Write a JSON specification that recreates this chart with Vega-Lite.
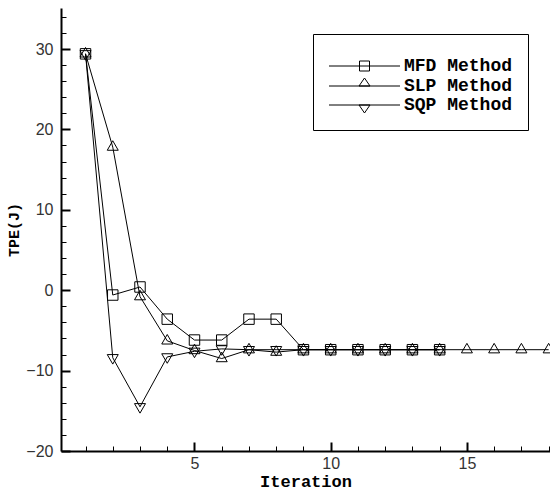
{
  "$schema": "https://vega.github.io/schema/vega-lite/v6.json",
  "autosize": "none",
  "width": 489,
  "height": 443,
  "padding": {"left": 61, "top": 8, "right": 0, "bottom": 39},
  "background": "white",
  "config": {"view": {"stroke": null}},
  "data": {"values": [
    {"method": "MFD Method", "iter": 1, "tpe": 29.4},
    {"method": "MFD Method", "iter": 2, "tpe": -0.6},
    {"method": "MFD Method", "iter": 3, "tpe": 0.4},
    {"method": "MFD Method", "iter": 4, "tpe": -3.6},
    {"method": "MFD Method", "iter": 5, "tpe": -6.2},
    {"method": "MFD Method", "iter": 6, "tpe": -6.2},
    {"method": "MFD Method", "iter": 7, "tpe": -3.6},
    {"method": "MFD Method", "iter": 8, "tpe": -3.6},
    {"method": "MFD Method", "iter": 9, "tpe": -7.4},
    {"method": "MFD Method", "iter": 10, "tpe": -7.4},
    {"method": "MFD Method", "iter": 11, "tpe": -7.4},
    {"method": "MFD Method", "iter": 12, "tpe": -7.4},
    {"method": "MFD Method", "iter": 13, "tpe": -7.4},
    {"method": "MFD Method", "iter": 14, "tpe": -7.4},
    {"method": "SLP Method", "iter": 1, "tpe": 29.4},
    {"method": "SLP Method", "iter": 2, "tpe": 17.8},
    {"method": "SLP Method", "iter": 3, "tpe": -0.8},
    {"method": "SLP Method", "iter": 4, "tpe": -6.3},
    {"method": "SLP Method", "iter": 5, "tpe": -7.5},
    {"method": "SLP Method", "iter": 6, "tpe": -8.5},
    {"method": "SLP Method", "iter": 7, "tpe": -7.4},
    {"method": "SLP Method", "iter": 8, "tpe": -7.7},
    {"method": "SLP Method", "iter": 9, "tpe": -7.4},
    {"method": "SLP Method", "iter": 10, "tpe": -7.4},
    {"method": "SLP Method", "iter": 11, "tpe": -7.4},
    {"method": "SLP Method", "iter": 12, "tpe": -7.4},
    {"method": "SLP Method", "iter": 13, "tpe": -7.4},
    {"method": "SLP Method", "iter": 14, "tpe": -7.4},
    {"method": "SLP Method", "iter": 15, "tpe": -7.4},
    {"method": "SLP Method", "iter": 16, "tpe": -7.4},
    {"method": "SLP Method", "iter": 17, "tpe": -7.4},
    {"method": "SLP Method", "iter": 18, "tpe": -7.4},
    {"method": "SQP Method", "iter": 1, "tpe": 29.4},
    {"method": "SQP Method", "iter": 2, "tpe": -8.4},
    {"method": "SQP Method", "iter": 3, "tpe": -14.5},
    {"method": "SQP Method", "iter": 4, "tpe": -8.3},
    {"method": "SQP Method", "iter": 5, "tpe": -7.6},
    {"method": "SQP Method", "iter": 6, "tpe": -7.3},
    {"method": "SQP Method", "iter": 7, "tpe": -7.4},
    {"method": "SQP Method", "iter": 8, "tpe": -7.4},
    {"method": "SQP Method", "iter": 9, "tpe": -7.4},
    {"method": "SQP Method", "iter": 10, "tpe": -7.4},
    {"method": "SQP Method", "iter": 11, "tpe": -7.4},
    {"method": "SQP Method", "iter": 12, "tpe": -7.4},
    {"method": "SQP Method", "iter": 13, "tpe": -7.4},
    {"method": "SQP Method", "iter": 14, "tpe": -7.4}
  ]},
  "encoding": {
    "x": {
      "field": "iter", "type": "quantitative",
      "scale": {"domain": [0.1, 18.05], "nice": false, "zero": false},
      "axis": {
        "title": "Iteration",
        "titleFont": "Liberation Mono", "titleFontWeight": "bold", "titleFontSize": 17, "titleColor": "black",
        "titlePadding": 2,
        "values": [1,2,3,4,5,6,7,8,9,10,11,12,13,14,15,16,17,18],
        "labelExpr": "datum.value % 5 === 0 ? datum.label : ''",
        "labelFont": "Liberation Sans", "labelFontSize": 16, "labelColor": "#333",
        "labelPadding": 13,
        "tickSize": {"condition": {"test": "datum.value % 5 === 0", "value": -9}, "value": -5},
        "tickWidth": {"condition": {"test": "datum.value % 5 === 0", "value": 2}, "value": 1},
        "tickColor": "black",
        "domainColor": "black", "domainWidth": 2,
        "grid": false
      }
    },
    "y": {
      "field": "tpe", "type": "quantitative",
      "scale": {"domain": [-20, 35.1], "nice": false, "zero": false},
      "axis": {
        "title": "TPE(J)",
        "titleFont": "Liberation Mono", "titleFontWeight": "bold", "titleFontSize": 15, "titleColor": "black",
        "values": [-20,-18,-16,-14,-12,-10,-8,-6,-4,-2,0,2,4,6,8,10,12,14,16,18,20,22,24,26,28,30,32,34],
        "labelExpr": "datum.value % 10 === 0 ? datum.label : ''",
        "labelFont": "Liberation Sans", "labelFontSize": 16, "labelColor": "#333",
        "labelPadding": 17,
        "tickSize": {"condition": {"test": "datum.value % 10 === 0", "value": -9}, "value": -5},
        "tickWidth": {"condition": {"test": "datum.value % 10 === 0", "value": 2}, "value": 1},
        "tickColor": "black",
        "domainColor": "black", "domainWidth": 2,
        "grid": false
      }
    }
  },
  "layer": [
    {
      "mark": {"type": "line", "color": "black", "strokeWidth": 1},
      "encoding": {"detail": {"field": "method"}}
    },
    {
      "mark": {"type": "point", "filled": false, "color": "black", "strokeWidth": 1, "size": 121, "opacity": 1},
      "encoding": {
        "shape": {
          "field": "method", "type": "nominal",
          "scale": {
            "domain": ["MFD Method", "SLP Method", "SQP Method"],
            "range": ["M-0.95,-0.95H0.95V0.95H-0.95Z", "M-1,0.577L0,-1.155L1,0.577Z", "M-1,-0.577L0,1.155L1,-0.577Z"]
          },
          "legend": null
        }
      }
    },
    {
      "transform": [{"filter": "false"}],
      "mark": {"type": "point", "filled": false, "color": "black", "strokeWidth": 1, "size": 256, "opacity": 1},
      "encoding": {
        "shape": {
          "field": "method", "type": "nominal",
          "scale": {
            "domain": ["MFD Method", "SLP Method", "SQP Method"],
            "range": ["M-1,0H7.875M2.8125,-0.625H4.0625V0.625H2.8125Z", "M-1,0H7.875M2.75,0L3.4375,-1L4.125,0Z", "M-1,0H7.875M2.75,0L3.4375,1L4.125,0Z"]
          },
          "legend": {
            "title": " ",
            "titleFontSize": 4,
            "titlePadding": 4,
            "orient": "none",
            "legendX": 252,
            "legendY": 26,
            "padding": 15,
            "strokeColor": "black",
            "fillColor": "white",
            "symbolSize": 256,
            "symbolStrokeWidth": 1,
            "symbolStrokeColor": "black",
            "symbolFillColor": "transparent",
            "labelFont": "Liberation Mono",
            "labelFontWeight": "bold",
            "labelFontSize": 18,
            "labelColor": "black",
            "labelOffset": 58,
            "rowPadding": 1
          }
        }
      }
    }
  ],
  "resolve": {"scale": {"shape": "independent"}}
}
